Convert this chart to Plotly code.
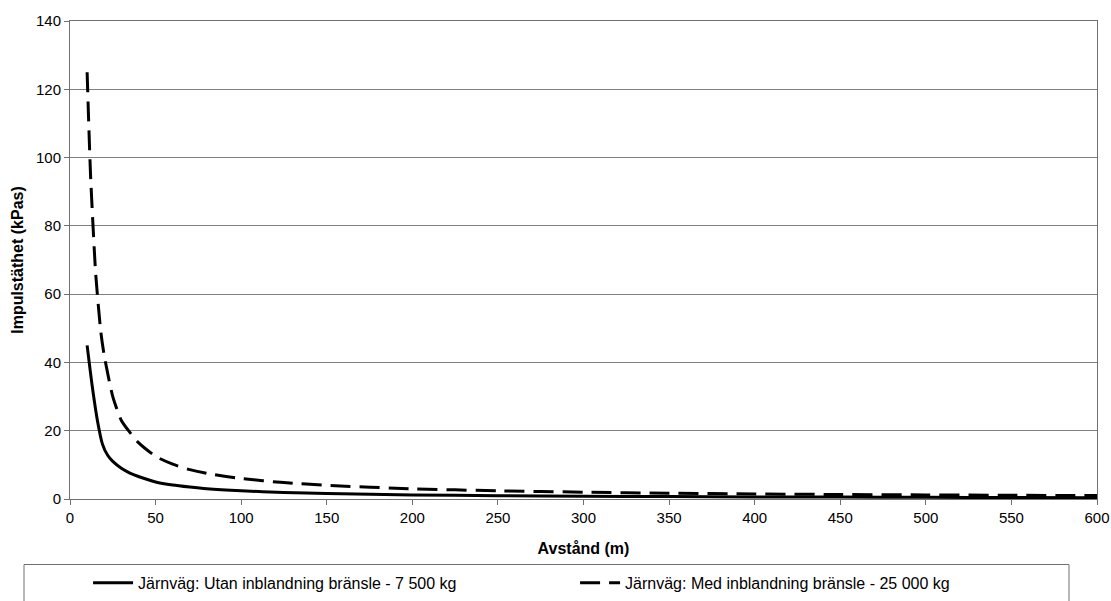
import plotly.graph_objects as go

# Data
x_utan = [10, 13, 16, 19, 22, 25, 30, 35, 40, 50, 60, 70, 80, 100, 125, 150, 200, 250, 300, 350, 400, 450, 500, 550, 600]
y_utan = [45, 33, 23, 16, 12.8, 11, 9, 7.6, 6.6, 5.0, 4.1, 3.5, 3.0, 2.4, 1.9, 1.6, 1.2, 0.95, 0.8, 0.7, 0.6, 0.55, 0.5, 0.45, 0.4]

x_med = [10, 12, 15, 18, 20, 25, 30, 35, 40, 50, 60, 70, 80, 100, 125, 150, 200, 250, 300, 350, 400, 450, 500, 550, 600]
y_med = [125, 95, 66, 49, 42, 30, 23, 19.5, 16.5, 12.5, 10.2, 8.6, 7.5, 6.0, 4.8, 4.0, 3.0, 2.4, 2.0, 1.7, 1.5, 1.3, 1.2, 1.1, 1.0]

name_utan = "Järnväg: Utan inblandning bränsle - 7 500 kg"
name_med = "Järnväg: Med inblandning bränsle - 25 000 kg"

x_ticks = list(range(0, 601, 50))
y_ticks = list(range(0, 141, 20))

FONT = "Liberation Sans, Arial, sans-serif"

fig = go.Figure()
fig.add_trace(go.Scatter(x=x_utan, y=y_utan, mode="lines", name=name_utan,
                         line=dict(color="black", width=3, shape="spline", smoothing=0.6)))
fig.add_trace(go.Scatter(x=x_med, y=y_med, mode="lines", name=name_med,
                         line=dict(color="black", width=3, dash="20px,9px", shape="spline", smoothing=0.6)))

fig.update_layout(
    width=1111, height=601,
    margin=dict(l=70, r=14, t=21, b=102, autoexpand=False),
    paper_bgcolor="white", plot_bgcolor="white",
    font=dict(family=FONT, size=15, color="black"),
    showlegend=True,
    legend=dict(orientation="h", x=0.0176, xanchor="left", y=-0.14, yanchor="top",
                font=dict(size=16, family=FONT, color="black"),
                entrywidth=432, entrywidthmode="pixels",
                bgcolor="rgba(0,0,0,0)", borderwidth=0, itemwidth=40),
    shapes=[dict(type="rect", xref="paper", yref="paper",
                 x0=(24 - 70) / 1027, x1=(1069 - 70) / 1027,
                 y0=(499 - 620) / 478, y1=(499 - 564.5) / 478,
                 line=dict(color="#707070", width=1), fillcolor="rgba(0,0,0,0)", layer="below")],
)

fig.update_xaxes(range=[0, 600], tickvals=x_ticks, ticks="outside", ticklen=5, tickcolor="#707070",
                 showline=True, linecolor="#707070", linewidth=1, mirror=True, automargin=False,
                 showgrid=False, zeroline=False,
                 tickfont=dict(size=15, family=FONT),
                 title=dict(text="<b>Avstånd (m)</b>", font=dict(size=16, family=FONT), standoff=17))
fig.update_yaxes(range=[0, 140], tickvals=y_ticks, ticks="outside", ticklen=5, tickcolor="#707070",
                 showline=True, linecolor="#707070", linewidth=1, mirror=True, automargin=False,
                 showgrid=True, gridcolor="#808080", gridwidth=1, zeroline=False,
                 tickfont=dict(size=15, family=FONT),
                 title=dict(text="<b>Impulstäthet (kPas)</b>", font=dict(size=16, family=FONT), standoff=8))

fig.write_html("out.html", config={"displayModeBar": False},
               post_script="document.body.style.margin='0';document.body.style.overflow='hidden';")
